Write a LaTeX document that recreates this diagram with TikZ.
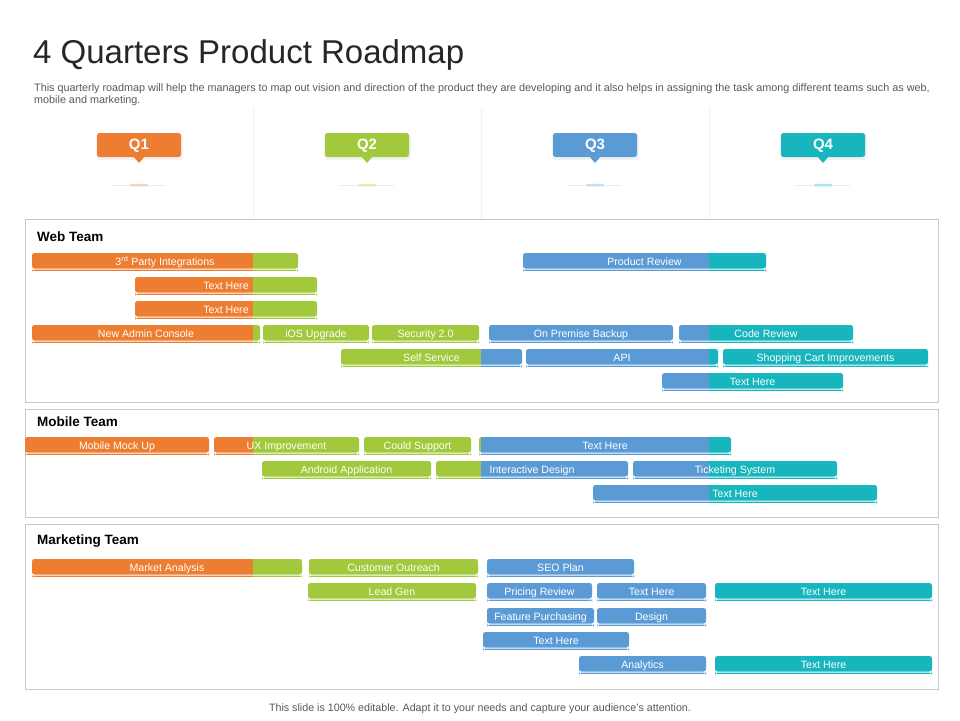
\documentclass[tikz,border=0pt]{standalone}
\usepackage{fontspec}
\setmainfont{Liberation Sans}
\definecolor{qo}{HTML}{ED7D31}
\definecolor{qg}{HTML}{A2C83C}
\definecolor{qb}{HTML}{5B9BD5}
\definecolor{qt}{HTML}{17B5BD}
\definecolor{bord}{HTML}{C8C8C8}
\definecolor{txtg}{HTML}{595959}
\tikzset{
 bartext/.style={text=white,font=\fontsize{10.6}{12}\selectfont,inner sep=0},
 panel/.style={draw=bord,line width=1},
 teamlbl/.style={anchor=west,font=\fontsize{13.5}{15}\selectfont\bfseries,inner sep=0},
 qlbl/.style={text=white,font=\fontsize{15}{17}\selectfont\bfseries,inner sep=0},
 sep/.style={draw=black!6,line width=0.8}
}
\newcommand\rmbar[5]{%
 \begin{scope}
 \clip[rounded corners=2.5] (#1,#3-8) rectangle (#2,#3+7.5) (#1,#3+8.6) rectangle (#2,#3+9.9);
 \fill[qo] (0,0) rectangle (253,720);
 \fill[qg] (253,0) rectangle (481,720);
 \fill[qb] (481,0) rectangle (709,720);
 \fill[qt] (709,0) rectangle (960,720);
 \end{scope}
 \node[bartext,anchor=base] (#5) at ({(#1+#2)/2},#3+4.4) {#4};}
\newcommand\qcall[4]{%
 \fill[black!5,rounded corners=3] (#1-43,134) rectangle (#1+44,160);
 \fill[#2,rounded corners=2.5] (#1-42,133) rectangle (#1+42,157);
 \fill[#2] (#1-6,156) -- (#1+6,156) -- (#1,163) -- cycle;
 \node[qlbl] (#4) at (#1,145.5) {#3};
 \draw[black!8,line width=0.6] (#1-27,185) -- (#1+27,185);
 \fill[#2!35,rounded corners=1] (#1-9,183.8) rectangle (#1+9,186.4);}
\begin{document}
\begin{tikzpicture}[x=1pt,y=-1pt]
\useasboundingbox[fill=white] (0,0) rectangle (960,720);
\node[anchor=west,inner sep=0,font=\fontsize{33}{38}\selectfont,text=black!85] (title) at (33,55) {4 Quarters Product Roadmap};
\node[anchor=west,inner sep=0,font=\fontsize{10.8}{12}\selectfont,text=txtg] (d1) at (34,89) {This quarterly roadmap will help the managers to map out vision and direction of the product they are developing and it also helps in assigning the task among different teams such as web,};
\node[anchor=west,inner sep=0,font=\fontsize{10.8}{12}\selectfont,text=txtg] (d2) at (34,101) {mobile and marketing.};
\foreach \x in {253,481,709} \draw[sep] (\x,108) -- (\x,219);
\qcall{139}{qo}{Q1}{q1}
\qcall{367}{qg}{Q2}{q2}
\qcall{595}{qb}{Q3}{q3}
\qcall{823}{qt}{Q4}{q4}
\draw[panel] (25,219) rectangle (938,402);
\draw[panel] (25,409) rectangle (938,517);
\draw[panel] (25,524) rectangle (938,689);
\node[teamlbl] (web) at (37,237) {Web Team};
\node[teamlbl] (mob) at (37,422) {Mobile Team};
\node[teamlbl] (mkt) at (37,541) {Marketing Team};
% web
\rmbar{32}{298}{261}{3\textsuperscript{rd} Party Integrations}{w1}
\rmbar{135}{317}{285}{Text Here}{w2}
\rmbar{135}{317}{309}{Text Here}{w3}
\rmbar{32}{260}{333}{New Admin Console}{w4}
\rmbar{263}{369}{333}{iOS Upgrade}{w5}
\rmbar{372}{479}{333}{Security 2.0}{w6}
\rmbar{341}{522}{357}{Self Service}{w7}
\rmbar{523}{766}{261}{Product Review}{w8}
\rmbar{489}{673}{333}{On Premise Backup}{w9}
\rmbar{679}{853}{333}{Code Review}{w10}
\rmbar{526}{718}{357}{API}{w11}
\rmbar{723}{928}{357}{Shopping Cart Improvements}{w12}
\rmbar{662}{843}{381}{Text Here}{w13}
% mobile
\rmbar{25}{209}{445}{Mobile Mock Up}{m1}
\rmbar{214}{359}{445}{UX Improvement}{m2}
\rmbar{364}{471}{445}{Could Support}{m3}
\rmbar{479}{731}{445}{Text Here}{m4}
\rmbar{262}{431}{469}{Android Application}{m5}
\rmbar{436}{628}{469}{Interactive Design}{m6}
\rmbar{633}{837}{469}{Ticketing System}{m7}
\rmbar{593}{877}{493}{Text Here}{m8}
% marketing
\rmbar{32}{302}{567}{Market Analysis}{k1}
\rmbar{309}{478}{567}{Customer Outreach}{k2}
\rmbar{308}{476}{591}{Lead Gen}{k3}
\rmbar{487}{634}{567}{SEO Plan}{k4}
\rmbar{487}{592}{591}{Pricing Review}{k5}
\rmbar{597}{706}{591}{Text Here}{k6}
\rmbar{715}{932}{591}{Text Here}{k7}
\rmbar{487}{594}{616}{Feature Purchasing}{k8}
\rmbar{597}{706}{616}{Design}{k9}
\rmbar{483}{629}{640}{Text Here}{k10}
\rmbar{579}{706}{664}{Analytics}{k11}
\rmbar{715}{932}{664}{Text Here}{k12}
\node[inner sep=0,font=\fontsize{10.7}{12}\selectfont,text=txtg] (foot) at (480,709) {This slide is 100\% editable. Adapt it to your needs and capture your audience’s attention.};
\end{tikzpicture}
\end{document}
